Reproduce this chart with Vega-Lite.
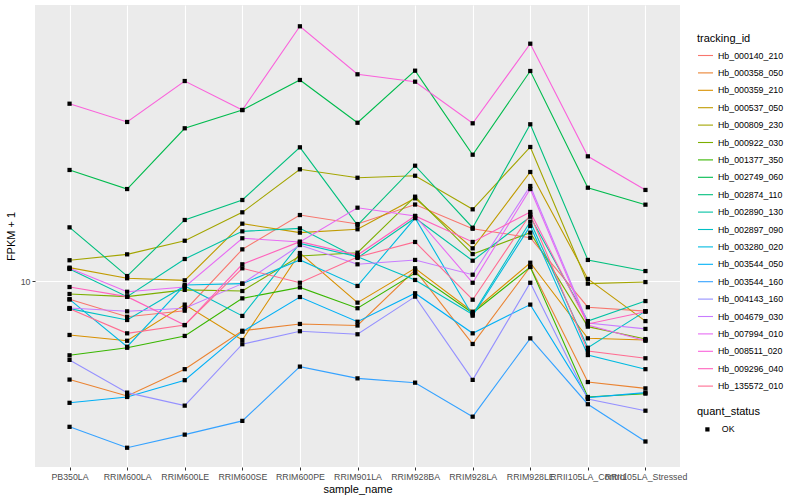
{
"$schema": "https://vega.github.io/schema/vega-lite/v6.json",
"width": 645, "height": 462,
"autosize": {"type": "none"},
"padding": {"left": 35, "top": 5, "right": 120, "bottom": 33},
"background": "white",
"config": {
  "view": {"fill": "#EBEBEB", "stroke": null},
  "font": "Liberation Sans",
  "axis": {"domain": false, "grid": true, "gridColor": "white", "gridWidth": 1.1, "tickColor": "#333333", "tickSize": 3, "labelColor": "#4D4D4D", "labelFontSize": 8.8, "labelPadding": 2, "titleFontSize": 11, "titleFontWeight": "normal", "titleColor": "black"},
  "legend": {"titleFontSize": 11, "titleFontWeight": "normal", "titleColor": "black", "labelFontSize": 8.8, "labelColor": "black", "padding": 0}
},
"data": {"values": [
{"tracking_id":"Hb_000140_210","sample_name":"PB350LA","FPKM":9.00,"quant_status":"OK"},
{"tracking_id":"Hb_000140_210","sample_name":"RRIM600LA","FPKM":8.14,"quant_status":"OK"},
{"tracking_id":"Hb_000140_210","sample_name":"RRIM600LE","FPKM":8.43,"quant_status":"OK"},
{"tracking_id":"Hb_000140_210","sample_name":"RRIM600SE","FPKM":12.00,"quant_status":"OK"},
{"tracking_id":"Hb_000140_210","sample_name":"RRIM600PE","FPKM":14.62,"quant_status":"OK"},
{"tracking_id":"Hb_000140_210","sample_name":"RRIM901LA","FPKM":13.88,"quant_status":"OK"},
{"tracking_id":"Hb_000140_210","sample_name":"RRIM928BA","FPKM":15.53,"quant_status":"OK"},
{"tracking_id":"Hb_000140_210","sample_name":"RRIM928LA","FPKM":13.51,"quant_status":"OK"},
{"tracking_id":"Hb_000140_210","sample_name":"RRIM928LE","FPKM":12.83,"quant_status":"OK"},
{"tracking_id":"Hb_000140_210","sample_name":"RRII105LA_Control","FPKM":8.60,"quant_status":"OK"},
{"tracking_id":"Hb_000140_210","sample_name":"RRII105LA_Stressed","FPKM":8.41,"quant_status":"OK"},
{"tracking_id":"Hb_000358_050","sample_name":"PB350LA","FPKM":5.67,"quant_status":"OK"},
{"tracking_id":"Hb_000358_050","sample_name":"RRIM600LA","FPKM":5.16,"quant_status":"OK"},
{"tracking_id":"Hb_000358_050","sample_name":"RRIM600LE","FPKM":6.02,"quant_status":"OK"},
{"tracking_id":"Hb_000358_050","sample_name":"RRIM600SE","FPKM":7.51,"quant_status":"OK"},
{"tracking_id":"Hb_000358_050","sample_name":"RRIM600PE","FPKM":7.81,"quant_status":"OK"},
{"tracking_id":"Hb_000358_050","sample_name":"RRIM901LA","FPKM":7.74,"quant_status":"OK"},
{"tracking_id":"Hb_000358_050","sample_name":"RRIM928BA","FPKM":10.65,"quant_status":"OK"},
{"tracking_id":"Hb_000358_050","sample_name":"RRIM928LA","FPKM":6.96,"quant_status":"OK"},
{"tracking_id":"Hb_000358_050","sample_name":"RRIM928LE","FPKM":10.86,"quant_status":"OK"},
{"tracking_id":"Hb_000358_050","sample_name":"RRII105LA_Control","FPKM":5.59,"quant_status":"OK"},
{"tracking_id":"Hb_000358_050","sample_name":"RRII105LA_Stressed","FPKM":5.39,"quant_status":"OK"},
{"tracking_id":"Hb_000359_210","sample_name":"PB350LA","FPKM":7.33,"quant_status":"OK"},
{"tracking_id":"Hb_000359_210","sample_name":"RRIM600LA","FPKM":7.09,"quant_status":"OK"},
{"tracking_id":"Hb_000359_210","sample_name":"RRIM600LE","FPKM":8.73,"quant_status":"OK"},
{"tracking_id":"Hb_000359_210","sample_name":"RRIM600SE","FPKM":7.12,"quant_status":"OK"},
{"tracking_id":"Hb_000359_210","sample_name":"RRIM600PE","FPKM":11.75,"quant_status":"OK"},
{"tracking_id":"Hb_000359_210","sample_name":"RRIM901LA","FPKM":8.83,"quant_status":"OK"},
{"tracking_id":"Hb_000359_210","sample_name":"RRIM928BA","FPKM":10.76,"quant_status":"OK"},
{"tracking_id":"Hb_000359_210","sample_name":"RRIM928LA","FPKM":8.38,"quant_status":"OK"},
{"tracking_id":"Hb_000359_210","sample_name":"RRIM928LE","FPKM":11.11,"quant_status":"OK"},
{"tracking_id":"Hb_000359_210","sample_name":"RRII105LA_Control","FPKM":7.19,"quant_status":"OK"},
{"tracking_id":"Hb_000359_210","sample_name":"RRII105LA_Stressed","FPKM":7.12,"quant_status":"OK"},
{"tracking_id":"Hb_000537_050","sample_name":"PB350LA","FPKM":10.80,"quant_status":"OK"},
{"tracking_id":"Hb_000537_050","sample_name":"RRIM600LA","FPKM":10.16,"quant_status":"OK"},
{"tracking_id":"Hb_000537_050","sample_name":"RRIM600LE","FPKM":10.04,"quant_status":"OK"},
{"tracking_id":"Hb_000537_050","sample_name":"RRIM600SE","FPKM":13.91,"quant_status":"OK"},
{"tracking_id":"Hb_000537_050","sample_name":"RRIM600PE","FPKM":13.21,"quant_status":"OK"},
{"tracking_id":"Hb_000537_050","sample_name":"RRIM901LA","FPKM":13.47,"quant_status":"OK"},
{"tracking_id":"Hb_000537_050","sample_name":"RRIM928BA","FPKM":16.10,"quant_status":"OK"},
{"tracking_id":"Hb_000537_050","sample_name":"RRIM928LA","FPKM":12.07,"quant_status":"OK"},
{"tracking_id":"Hb_000537_050","sample_name":"RRIM928LE","FPKM":18.73,"quant_status":"OK"},
{"tracking_id":"Hb_000537_050","sample_name":"RRII105LA_Control","FPKM":10.12,"quant_status":"OK"},
{"tracking_id":"Hb_000537_050","sample_name":"RRII105LA_Stressed","FPKM":7.94,"quant_status":"OK"},
{"tracking_id":"Hb_000809_230","sample_name":"PB350LA","FPKM":11.27,"quant_status":"OK"},
{"tracking_id":"Hb_000809_230","sample_name":"RRIM600LA","FPKM":11.66,"quant_status":"OK"},
{"tracking_id":"Hb_000809_230","sample_name":"RRIM600LE","FPKM":12.61,"quant_status":"OK"},
{"tracking_id":"Hb_000809_230","sample_name":"RRIM600SE","FPKM":14.85,"quant_status":"OK"},
{"tracking_id":"Hb_000809_230","sample_name":"RRIM600PE","FPKM":19.02,"quant_status":"OK"},
{"tracking_id":"Hb_000809_230","sample_name":"RRIM901LA","FPKM":18.12,"quant_status":"OK"},
{"tracking_id":"Hb_000809_230","sample_name":"RRIM928BA","FPKM":18.33,"quant_status":"OK"},
{"tracking_id":"Hb_000809_230","sample_name":"RRIM928LA","FPKM":15.11,"quant_status":"OK"},
{"tracking_id":"Hb_000809_230","sample_name":"RRIM928LE","FPKM":21.63,"quant_status":"OK"},
{"tracking_id":"Hb_000809_230","sample_name":"RRII105LA_Control","FPKM":9.85,"quant_status":"OK"},
{"tracking_id":"Hb_000809_230","sample_name":"RRII105LA_Stressed","FPKM":9.94,"quant_status":"OK"},
{"tracking_id":"Hb_000922_030","sample_name":"PB350LA","FPKM":9.28,"quant_status":"OK"},
{"tracking_id":"Hb_000922_030","sample_name":"RRIM600LA","FPKM":9.14,"quant_status":"OK"},
{"tracking_id":"Hb_000922_030","sample_name":"RRIM600LE","FPKM":9.50,"quant_status":"OK"},
{"tracking_id":"Hb_000922_030","sample_name":"RRIM600SE","FPKM":9.44,"quant_status":"OK"},
{"tracking_id":"Hb_000922_030","sample_name":"RRIM600PE","FPKM":11.55,"quant_status":"OK"},
{"tracking_id":"Hb_000922_030","sample_name":"RRIM901LA","FPKM":11.77,"quant_status":"OK"},
{"tracking_id":"Hb_000922_030","sample_name":"RRIM928BA","FPKM":16.25,"quant_status":"OK"},
{"tracking_id":"Hb_000922_030","sample_name":"RRIM928LA","FPKM":11.68,"quant_status":"OK"},
{"tracking_id":"Hb_000922_030","sample_name":"RRIM928LE","FPKM":13.21,"quant_status":"OK"},
{"tracking_id":"Hb_000922_030","sample_name":"RRII105LA_Control","FPKM":7.69,"quant_status":"OK"},
{"tracking_id":"Hb_000922_030","sample_name":"RRII105LA_Stressed","FPKM":7.16,"quant_status":"OK"},
{"tracking_id":"Hb_001377_350","sample_name":"PB350LA","FPKM":6.52,"quant_status":"OK"},
{"tracking_id":"Hb_001377_350","sample_name":"RRIM600LA","FPKM":6.81,"quant_status":"OK"},
{"tracking_id":"Hb_001377_350","sample_name":"RRIM600LE","FPKM":7.29,"quant_status":"OK"},
{"tracking_id":"Hb_001377_350","sample_name":"RRIM600SE","FPKM":9.05,"quant_status":"OK"},
{"tracking_id":"Hb_001377_350","sample_name":"RRIM600PE","FPKM":9.64,"quant_status":"OK"},
{"tracking_id":"Hb_001377_350","sample_name":"RRIM901LA","FPKM":8.55,"quant_status":"OK"},
{"tracking_id":"Hb_001377_350","sample_name":"RRIM928BA","FPKM":10.47,"quant_status":"OK"},
{"tracking_id":"Hb_001377_350","sample_name":"RRIM928LA","FPKM":8.32,"quant_status":"OK"},
{"tracking_id":"Hb_001377_350","sample_name":"RRIM928LE","FPKM":10.84,"quant_status":"OK"},
{"tracking_id":"Hb_001377_350","sample_name":"RRII105LA_Control","FPKM":5.13,"quant_status":"OK"},
{"tracking_id":"Hb_001377_350","sample_name":"RRII105LA_Stressed","FPKM":5.23,"quant_status":"OK"},
{"tracking_id":"Hb_002749_060","sample_name":"PB350LA","FPKM":18.95,"quant_status":"OK"},
{"tracking_id":"Hb_002749_060","sample_name":"RRIM600LA","FPKM":16.98,"quant_status":"OK"},
{"tracking_id":"Hb_002749_060","sample_name":"RRIM600LE","FPKM":24.09,"quant_status":"OK"},
{"tracking_id":"Hb_002749_060","sample_name":"RRIM600SE","FPKM":26.76,"quant_status":"OK"},
{"tracking_id":"Hb_002749_060","sample_name":"RRIM600PE","FPKM":31.81,"quant_status":"OK"},
{"tracking_id":"Hb_002749_060","sample_name":"RRIM901LA","FPKM":24.87,"quant_status":"OK"},
{"tracking_id":"Hb_002749_060","sample_name":"RRIM928BA","FPKM":33.56,"quant_status":"OK"},
{"tracking_id":"Hb_002749_060","sample_name":"RRIM928LA","FPKM":20.69,"quant_status":"OK"},
{"tracking_id":"Hb_002749_060","sample_name":"RRIM928LE","FPKM":33.50,"quant_status":"OK"},
{"tracking_id":"Hb_002749_060","sample_name":"RRII105LA_Control","FPKM":17.11,"quant_status":"OK"},
{"tracking_id":"Hb_002749_060","sample_name":"RRII105LA_Stressed","FPKM":15.52,"quant_status":"OK"},
{"tracking_id":"Hb_002874_110","sample_name":"PB350LA","FPKM":13.62,"quant_status":"OK"},
{"tracking_id":"Hb_002874_110","sample_name":"RRIM600LA","FPKM":10.29,"quant_status":"OK"},
{"tracking_id":"Hb_002874_110","sample_name":"RRIM600LE","FPKM":14.21,"quant_status":"OK"},
{"tracking_id":"Hb_002874_110","sample_name":"RRIM600SE","FPKM":15.94,"quant_status":"OK"},
{"tracking_id":"Hb_002874_110","sample_name":"RRIM600PE","FPKM":21.59,"quant_status":"OK"},
{"tracking_id":"Hb_002874_110","sample_name":"RRIM901LA","FPKM":13.80,"quant_status":"OK"},
{"tracking_id":"Hb_002874_110","sample_name":"RRIM928BA","FPKM":19.42,"quant_status":"OK"},
{"tracking_id":"Hb_002874_110","sample_name":"RRIM928LA","FPKM":13.59,"quant_status":"OK"},
{"tracking_id":"Hb_002874_110","sample_name":"RRIM928LE","FPKM":24.65,"quant_status":"OK"},
{"tracking_id":"Hb_002874_110","sample_name":"RRII105LA_Control","FPKM":11.29,"quant_status":"OK"},
{"tracking_id":"Hb_002874_110","sample_name":"RRII105LA_Stressed","FPKM":10.59,"quant_status":"OK"},
{"tracking_id":"Hb_002890_130","sample_name":"PB350LA","FPKM":10.72,"quant_status":"OK"},
{"tracking_id":"Hb_002890_130","sample_name":"RRIM600LA","FPKM":9.14,"quant_status":"OK"},
{"tracking_id":"Hb_002890_130","sample_name":"RRIM600LE","FPKM":11.35,"quant_status":"OK"},
{"tracking_id":"Hb_002890_130","sample_name":"RRIM600SE","FPKM":13.31,"quant_status":"OK"},
{"tracking_id":"Hb_002890_130","sample_name":"RRIM600PE","FPKM":13.54,"quant_status":"OK"},
{"tracking_id":"Hb_002890_130","sample_name":"RRIM901LA","FPKM":11.42,"quant_status":"OK"},
{"tracking_id":"Hb_002890_130","sample_name":"RRIM928BA","FPKM":14.37,"quant_status":"OK"},
{"tracking_id":"Hb_002890_130","sample_name":"RRIM928LA","FPKM":11.24,"quant_status":"OK"},
{"tracking_id":"Hb_002890_130","sample_name":"RRIM928LE","FPKM":14.48,"quant_status":"OK"},
{"tracking_id":"Hb_002890_130","sample_name":"RRII105LA_Control","FPKM":7.94,"quant_status":"OK"},
{"tracking_id":"Hb_002890_130","sample_name":"RRII105LA_Stressed","FPKM":8.91,"quant_status":"OK"},
{"tracking_id":"Hb_002897_090","sample_name":"PB350LA","FPKM":8.53,"quant_status":"OK"},
{"tracking_id":"Hb_002897_090","sample_name":"RRIM600LA","FPKM":7.99,"quant_status":"OK"},
{"tracking_id":"Hb_002897_090","sample_name":"RRIM600LE","FPKM":9.72,"quant_status":"OK"},
{"tracking_id":"Hb_002897_090","sample_name":"RRIM600SE","FPKM":8.18,"quant_status":"OK"},
{"tracking_id":"Hb_002897_090","sample_name":"RRIM600PE","FPKM":12.42,"quant_status":"OK"},
{"tracking_id":"Hb_002897_090","sample_name":"RRIM901LA","FPKM":11.50,"quant_status":"OK"},
{"tracking_id":"Hb_002897_090","sample_name":"RRIM928BA","FPKM":10.06,"quant_status":"OK"},
{"tracking_id":"Hb_002897_090","sample_name":"RRIM928LA","FPKM":8.25,"quant_status":"OK"},
{"tracking_id":"Hb_002897_090","sample_name":"RRIM928LE","FPKM":14.07,"quant_status":"OK"},
{"tracking_id":"Hb_002897_090","sample_name":"RRII105LA_Control","FPKM":6.81,"quant_status":"OK"},
{"tracking_id":"Hb_002897_090","sample_name":"RRII105LA_Stressed","FPKM":8.41,"quant_status":"OK"},
{"tracking_id":"Hb_003280_020","sample_name":"PB350LA","FPKM":9.00,"quant_status":"OK"},
{"tracking_id":"Hb_003280_020","sample_name":"RRIM600LA","FPKM":6.85,"quant_status":"OK"},
{"tracking_id":"Hb_003280_020","sample_name":"RRIM600LE","FPKM":9.77,"quant_status":"OK"},
{"tracking_id":"Hb_003280_020","sample_name":"RRIM600SE","FPKM":9.85,"quant_status":"OK"},
{"tracking_id":"Hb_003280_020","sample_name":"RRIM600PE","FPKM":11.29,"quant_status":"OK"},
{"tracking_id":"Hb_003280_020","sample_name":"RRIM901LA","FPKM":9.72,"quant_status":"OK"},
{"tracking_id":"Hb_003280_020","sample_name":"RRIM928BA","FPKM":14.37,"quant_status":"OK"},
{"tracking_id":"Hb_003280_020","sample_name":"RRIM928LA","FPKM":8.19,"quant_status":"OK"},
{"tracking_id":"Hb_003280_020","sample_name":"RRIM928LE","FPKM":13.73,"quant_status":"OK"},
{"tracking_id":"Hb_003280_020","sample_name":"RRII105LA_Control","FPKM":6.53,"quant_status":"OK"},
{"tracking_id":"Hb_003280_020","sample_name":"RRII105LA_Stressed","FPKM":6.02,"quant_status":"OK"},
{"tracking_id":"Hb_003544_050","sample_name":"PB350LA","FPKM":4.96,"quant_status":"OK"},
{"tracking_id":"Hb_003544_050","sample_name":"RRIM600LA","FPKM":5.13,"quant_status":"OK"},
{"tracking_id":"Hb_003544_050","sample_name":"RRIM600LE","FPKM":5.65,"quant_status":"OK"},
{"tracking_id":"Hb_003544_050","sample_name":"RRIM600SE","FPKM":7.47,"quant_status":"OK"},
{"tracking_id":"Hb_003544_050","sample_name":"RRIM600PE","FPKM":9.12,"quant_status":"OK"},
{"tracking_id":"Hb_003544_050","sample_name":"RRIM901LA","FPKM":7.91,"quant_status":"OK"},
{"tracking_id":"Hb_003544_050","sample_name":"RRIM928BA","FPKM":9.32,"quant_status":"OK"},
{"tracking_id":"Hb_003544_050","sample_name":"RRIM928LA","FPKM":7.40,"quant_status":"OK"},
{"tracking_id":"Hb_003544_050","sample_name":"RRIM928LE","FPKM":8.73,"quant_status":"OK"},
{"tracking_id":"Hb_003544_050","sample_name":"RRII105LA_Control","FPKM":5.11,"quant_status":"OK"},
{"tracking_id":"Hb_003544_050","sample_name":"RRII105LA_Stressed","FPKM":5.26,"quant_status":"OK"},
{"tracking_id":"Hb_003544_160","sample_name":"PB350LA","FPKM":4.32,"quant_status":"OK"},
{"tracking_id":"Hb_003544_160","sample_name":"RRIM600LA","FPKM":3.83,"quant_status":"OK"},
{"tracking_id":"Hb_003544_160","sample_name":"RRIM600LE","FPKM":4.13,"quant_status":"OK"},
{"tracking_id":"Hb_003544_160","sample_name":"RRIM600SE","FPKM":4.47,"quant_status":"OK"},
{"tracking_id":"Hb_003544_160","sample_name":"RRIM600PE","FPKM":6.11,"quant_status":"OK"},
{"tracking_id":"Hb_003544_160","sample_name":"RRIM901LA","FPKM":5.71,"quant_status":"OK"},
{"tracking_id":"Hb_003544_160","sample_name":"RRIM928BA","FPKM":5.57,"quant_status":"OK"},
{"tracking_id":"Hb_003544_160","sample_name":"RRIM928LA","FPKM":4.58,"quant_status":"OK"},
{"tracking_id":"Hb_003544_160","sample_name":"RRIM928LE","FPKM":7.19,"quant_status":"OK"},
{"tracking_id":"Hb_003544_160","sample_name":"RRII105LA_Control","FPKM":4.92,"quant_status":"OK"},
{"tracking_id":"Hb_003544_160","sample_name":"RRII105LA_Stressed","FPKM":3.97,"quant_status":"OK"},
{"tracking_id":"Hb_004143_160","sample_name":"PB350LA","FPKM":6.35,"quant_status":"OK"},
{"tracking_id":"Hb_004143_160","sample_name":"RRIM600LA","FPKM":5.26,"quant_status":"OK"},
{"tracking_id":"Hb_004143_160","sample_name":"RRIM600LE","FPKM":4.88,"quant_status":"OK"},
{"tracking_id":"Hb_004143_160","sample_name":"RRIM600SE","FPKM":6.95,"quant_status":"OK"},
{"tracking_id":"Hb_004143_160","sample_name":"RRIM600PE","FPKM":7.49,"quant_status":"OK"},
{"tracking_id":"Hb_004143_160","sample_name":"RRIM901LA","FPKM":7.36,"quant_status":"OK"},
{"tracking_id":"Hb_004143_160","sample_name":"RRIM928BA","FPKM":9.14,"quant_status":"OK"},
{"tracking_id":"Hb_004143_160","sample_name":"RRIM928LA","FPKM":5.66,"quant_status":"OK"},
{"tracking_id":"Hb_004143_160","sample_name":"RRIM928LE","FPKM":9.90,"quant_status":"OK"},
{"tracking_id":"Hb_004143_160","sample_name":"RRII105LA_Control","FPKM":5.07,"quant_status":"OK"},
{"tracking_id":"Hb_004143_160","sample_name":"RRII105LA_Stressed","FPKM":4.74,"quant_status":"OK"},
{"tracking_id":"Hb_004679_030","sample_name":"PB350LA","FPKM":8.56,"quant_status":"OK"},
{"tracking_id":"Hb_004679_030","sample_name":"RRIM600LA","FPKM":8.40,"quant_status":"OK"},
{"tracking_id":"Hb_004679_030","sample_name":"RRIM600LE","FPKM":8.55,"quant_status":"OK"},
{"tracking_id":"Hb_004679_030","sample_name":"RRIM600SE","FPKM":9.85,"quant_status":"OK"},
{"tracking_id":"Hb_004679_030","sample_name":"RRIM600PE","FPKM":12.30,"quant_status":"OK"},
{"tracking_id":"Hb_004679_030","sample_name":"RRIM901LA","FPKM":11.01,"quant_status":"OK"},
{"tracking_id":"Hb_004679_030","sample_name":"RRIM928BA","FPKM":11.29,"quant_status":"OK"},
{"tracking_id":"Hb_004679_030","sample_name":"RRIM928LA","FPKM":10.37,"quant_status":"OK"},
{"tracking_id":"Hb_004679_030","sample_name":"RRIM928LE","FPKM":17.28,"quant_status":"OK"},
{"tracking_id":"Hb_004679_030","sample_name":"RRII105LA_Control","FPKM":7.85,"quant_status":"OK"},
{"tracking_id":"Hb_004679_030","sample_name":"RRII105LA_Stressed","FPKM":7.59,"quant_status":"OK"},
{"tracking_id":"Hb_007994_010","sample_name":"PB350LA","FPKM":10.76,"quant_status":"OK"},
{"tracking_id":"Hb_007994_010","sample_name":"RRIM600LA","FPKM":9.40,"quant_status":"OK"},
{"tracking_id":"Hb_007994_010","sample_name":"RRIM600LE","FPKM":9.66,"quant_status":"OK"},
{"tracking_id":"Hb_007994_010","sample_name":"RRIM600SE","FPKM":12.79,"quant_status":"OK"},
{"tracking_id":"Hb_007994_010","sample_name":"RRIM600PE","FPKM":12.52,"quant_status":"OK"},
{"tracking_id":"Hb_007994_010","sample_name":"RRIM901LA","FPKM":15.25,"quant_status":"OK"},
{"tracking_id":"Hb_007994_010","sample_name":"RRIM928BA","FPKM":14.54,"quant_status":"OK"},
{"tracking_id":"Hb_007994_010","sample_name":"RRIM928LA","FPKM":9.90,"quant_status":"OK"},
{"tracking_id":"Hb_007994_010","sample_name":"RRIM928LE","FPKM":16.98,"quant_status":"OK"},
{"tracking_id":"Hb_007994_010","sample_name":"RRII105LA_Control","FPKM":7.76,"quant_status":"OK"},
{"tracking_id":"Hb_007994_010","sample_name":"RRII105LA_Stressed","FPKM":7.09,"quant_status":"OK"},
{"tracking_id":"Hb_008511_020","sample_name":"PB350LA","FPKM":27.75,"quant_status":"OK"},
{"tracking_id":"Hb_008511_020","sample_name":"RRIM600LA","FPKM":24.98,"quant_status":"OK"},
{"tracking_id":"Hb_008511_020","sample_name":"RRIM600LE","FPKM":31.62,"quant_status":"OK"},
{"tracking_id":"Hb_008511_020","sample_name":"RRIM600SE","FPKM":26.76,"quant_status":"OK"},
{"tracking_id":"Hb_008511_020","sample_name":"RRIM600PE","FPKM":43.33,"quant_status":"OK"},
{"tracking_id":"Hb_008511_020","sample_name":"RRIM901LA","FPKM":32.87,"quant_status":"OK"},
{"tracking_id":"Hb_008511_020","sample_name":"RRIM928BA","FPKM":31.50,"quant_status":"OK"},
{"tracking_id":"Hb_008511_020","sample_name":"RRIM928LA","FPKM":24.79,"quant_status":"OK"},
{"tracking_id":"Hb_008511_020","sample_name":"RRIM928LE","FPKM":39.20,"quant_status":"OK"},
{"tracking_id":"Hb_008511_020","sample_name":"RRII105LA_Control","FPKM":20.50,"quant_status":"OK"},
{"tracking_id":"Hb_008511_020","sample_name":"RRII105LA_Stressed","FPKM":16.89,"quant_status":"OK"},
{"tracking_id":"Hb_009296_040","sample_name":"PB350LA","FPKM":9.66,"quant_status":"OK"},
{"tracking_id":"Hb_009296_040","sample_name":"RRIM600LA","FPKM":9.14,"quant_status":"OK"},
{"tracking_id":"Hb_009296_040","sample_name":"RRIM600LE","FPKM":7.76,"quant_status":"OK"},
{"tracking_id":"Hb_009296_040","sample_name":"RRIM600SE","FPKM":11.01,"quant_status":"OK"},
{"tracking_id":"Hb_009296_040","sample_name":"RRIM600PE","FPKM":12.54,"quant_status":"OK"},
{"tracking_id":"Hb_009296_040","sample_name":"RRIM901LA","FPKM":11.61,"quant_status":"OK"},
{"tracking_id":"Hb_009296_040","sample_name":"RRIM928BA","FPKM":14.54,"quant_status":"OK"},
{"tracking_id":"Hb_009296_040","sample_name":"RRIM928LA","FPKM":12.52,"quant_status":"OK"},
{"tracking_id":"Hb_009296_040","sample_name":"RRIM928LE","FPKM":14.88,"quant_status":"OK"},
{"tracking_id":"Hb_009296_040","sample_name":"RRII105LA_Control","FPKM":7.81,"quant_status":"OK"},
{"tracking_id":"Hb_009296_040","sample_name":"RRII105LA_Stressed","FPKM":8.38,"quant_status":"OK"},
{"tracking_id":"Hb_135572_010","sample_name":"PB350LA","FPKM":8.53,"quant_status":"OK"},
{"tracking_id":"Hb_135572_010","sample_name":"RRIM600LA","FPKM":7.40,"quant_status":"OK"},
{"tracking_id":"Hb_135572_010","sample_name":"RRIM600LE","FPKM":7.76,"quant_status":"OK"},
{"tracking_id":"Hb_135572_010","sample_name":"RRIM600SE","FPKM":10.76,"quant_status":"OK"},
{"tracking_id":"Hb_135572_010","sample_name":"RRIM600PE","FPKM":9.90,"quant_status":"OK"},
{"tracking_id":"Hb_135572_010","sample_name":"RRIM901LA","FPKM":11.48,"quant_status":"OK"},
{"tracking_id":"Hb_135572_010","sample_name":"RRIM928BA","FPKM":12.52,"quant_status":"OK"},
{"tracking_id":"Hb_135572_010","sample_name":"RRIM928LA","FPKM":8.98,"quant_status":"OK"},
{"tracking_id":"Hb_135572_010","sample_name":"RRIM928LE","FPKM":14.66,"quant_status":"OK"},
{"tracking_id":"Hb_135572_010","sample_name":"RRII105LA_Control","FPKM":6.68,"quant_status":"OK"},
{"tracking_id":"Hb_135572_010","sample_name":"RRII105LA_Stressed","FPKM":6.41,"quant_status":"OK"}
]},
"encoding": {
  "x": {"field": "sample_name", "type": "nominal",
        "sort": ["PB350LA","RRIM600LA","RRIM600LE","RRIM600SE","RRIM600PE","RRIM901LA","RRIM928BA","RRIM928LA","RRIM928LE","RRII105LA_Control","RRII105LA_Stressed"],
        "scale": {"type": "point", "padding": 0.6},
        "axis": {"title": "sample_name", "labelAngle": 0, "labelOverlap": false, "titlePadding": 3}},
  "y": {"field": "FPKM", "type": "quantitative",
        "scale": {"type": "log", "domain": [3.428, 48.98], "nice": false, "zero": false},
        "axis": {"title": "FPKM + 1", "values": [10], "format": "d", "titlePadding": 4}}
},
"layer": [
  {"mark": {"type": "line", "strokeWidth": 1.1},
   "encoding": {"color": {"field": "tracking_id", "type": "nominal",
     "scale": {"range": ["#F8766D","#EA8331","#D89000","#C09B00","#A3A500","#7CAE00","#39B600","#00BB4E","#00BF7D","#00C1A3","#00BFC4","#00BAE0","#00B0F6","#35A2FF","#9590FF","#C77CFF","#E76BF3","#FA62DB","#FF62BC","#FF6C91"]},
     "legend": {"title": "tracking_id", "orient": "none", "legendX": 662, "legendY": 28, "symbolType": "stroke", "symbolSize": 225, "symbolStrokeWidth": 1.1, "labelOffset": 4, "rowPadding": 3.4, "titlePadding": 3}}}},
  {"mark": {"type": "point", "filled": true, "size": 18, "color": "black", "opacity": 1},
   "encoding": {"shape": {"field": "quant_status", "type": "nominal",
     "scale": {"range": ["square"]},
     "legend": {"title": "quant_status", "orient": "none", "legendX": 662, "legendY": 401, "symbolFillColor": "black", "symbolStrokeColor": "black", "symbolSize": 18, "symbolOffset": 6, "labelOffset": 10, "titlePadding": 8}}}}
]
}
